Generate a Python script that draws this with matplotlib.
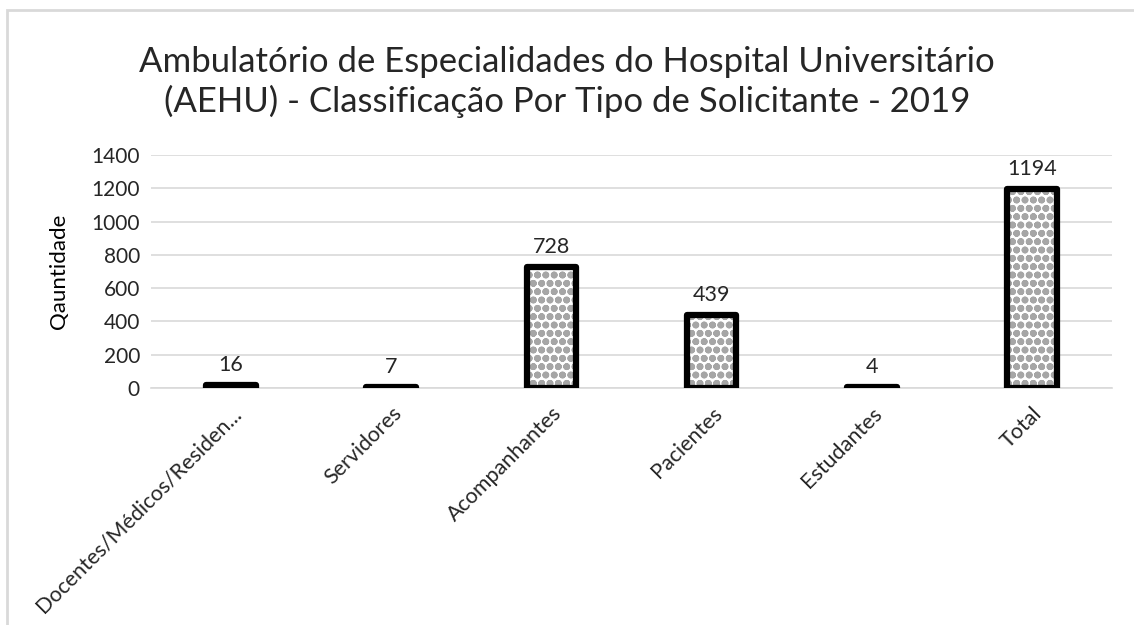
import matplotlib
matplotlib.use("Agg")
import matplotlib.pyplot as plt
from matplotlib.patches import Rectangle

categories = ["Docentes/Médicos/Residen...", "Servidores", "Acompanhantes", "Pacientes", "Estudantes", "Total"]
values = [16, 7, 728, 439, 4, 1194]
yticks = [0, 200, 400, 600, 800, 1000, 1200, 1400]

plt.rcParams['font.family'] = ['Lato', 'DejaVu Sans']
plt.rcParams['hatch.linewidth'] = 2.5

W, H = 1134, 625
fig = plt.figure(figsize=(W/100, H/100), dpi=100)
ax = fig.add_axes([151/W, 1-388/H, (1112-151)/W, (388-155)/H])

x = list(range(len(categories)))
bw = 0.31
ax.bar(x, values, width=bw, color="white", edgecolor="#a6a6a6", hatch="oo", linewidth=0, zorder=2)
ax.bar(x, values, width=bw, fill=False, edgecolor="black", linewidth=4.5, zorder=3, joinstyle="round")

for xi, v in zip(x, values):
    ax.text(xi, v + 60, str(v), ha="center", va="bottom", fontsize=15.5, color="#262626")

ax.set_xlim(-0.5, len(categories) - 0.5)
ax.set_ylim(0, 1400)
ax.set_yticks(yticks)
ax.set_yticklabels([str(t) for t in yticks], fontsize=15, color="#262626")
ax.set_xticks(x)
ax.set_xticklabels(categories, rotation=45, ha="right", rotation_mode="anchor", fontsize=15.5, color="#262626")
ax.tick_params(axis="y", length=0, pad=8)
ax.tick_params(axis="x", length=0, pad=11)
ax.grid(axis="y", color="#d9d9d9", linewidth=1.2, zorder=0)
ax.set_axisbelow(True)
for s in ["top", "right", "left"]:
    ax.spines[s].set_visible(False)
ax.spines["bottom"].set_color("#d9d9d9")
ax.spines["bottom"].set_linewidth(1.2)
ax.set_ylabel("Qauntidade", fontsize=16, color="black", labelpad=16)

fig.text(0.5, 1-82/H, "Ambulatório de Especialidades do Hospital Universitário\n(AEHU) - Classificação Por Tipo de Solicitante - 2019",
         ha="center", va="center", fontsize=25, color="#262626", linespacing=1.25)

fig.add_artist(Rectangle((7/W, -0.1), 1.2, 1-9.5/H + 0.1, transform=fig.transFigure, fill=False,
                         edgecolor="#d9d9d9", linewidth=2))

fig.savefig("out.png", dpi=100)
